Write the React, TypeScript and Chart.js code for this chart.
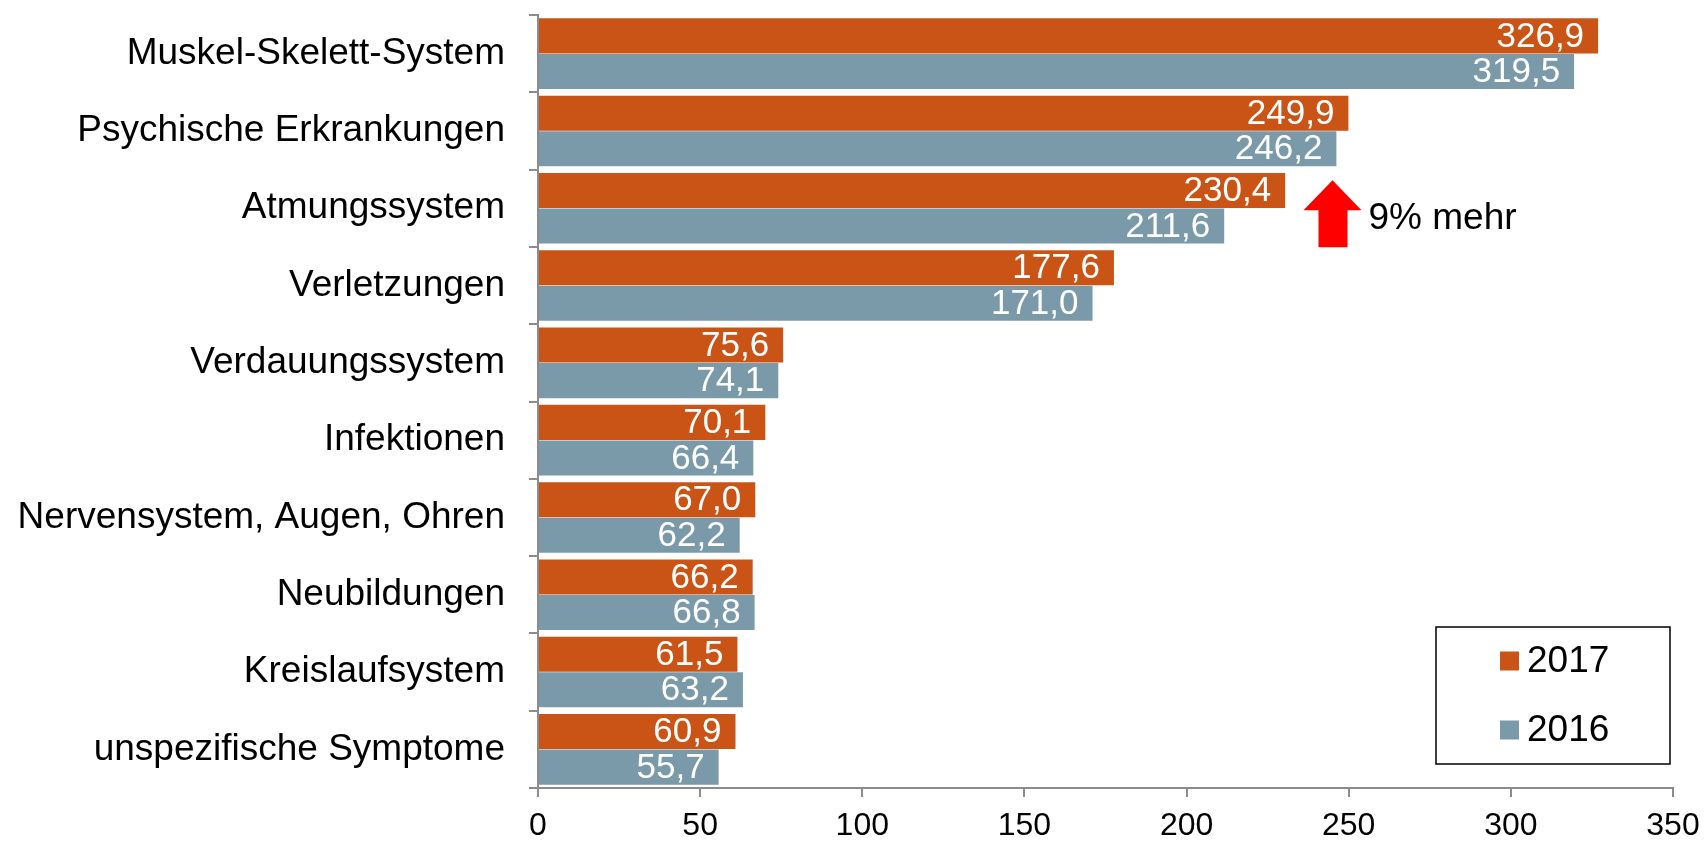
import React, { useEffect, useRef } from "react";
import { Chart, registerables } from "chart.js";

Chart.register(...registerables);

const categories = [
  "Muskel-Skelett-System",
  "Psychische Erkrankungen",
  "Atmungssystem",
  "Verletzungen",
  "Verdauungssystem",
  "Infektionen",
  "Nervensystem, Augen, Ohren",
  "Neubildungen",
  "Kreislaufsystem",
  "unspezifische Symptome",
];
const values2017 = [326.9, 249.9, 230.4, 177.6, 75.6, 70.1, 67.0, 66.2, 61.5, 60.9];
const values2016 = [319.5, 246.2, 211.6, 171.0, 74.1, 66.4, 62.2, 66.8, 63.2, 55.7];
const seriesLabels = ["2017", "2016"];
const xTicks = [0, 50, 100, 150, 200, 250, 300, 350];
const annotationText = "9% mehr";
const annotationValue = 245;
const annotationCategory = 2;

const ORANGE = "#CA5416";
const BLUE = "#7A9AAA";
const AXIS = "#8C8C8C";
const FONT = "'Liberation Sans', Arial, Helvetica, sans-serif";

const fmt = (v: number) => v.toFixed(1).replace(".", ",");

const dataLabelPlugin = {
  id: "dataLabels",
  afterDatasetsDraw(chart: any) {
    const ctx = chart.ctx;
    ctx.save();
    ctx.fillStyle = "#ffffff";
    ctx.font = `35px ${FONT}`;
    ctx.textAlign = "right";
    ctx.textBaseline = "middle";
    chart.data.datasets.forEach((ds: any, di: number) => {
      const meta = chart.getDatasetMeta(di);
      meta.data.forEach((bar: any, i: number) => {
        ctx.fillText(fmt(ds.data[i]), bar.x - 14, bar.y + 1);
      });
    });
    ctx.restore();
  },
};

const annotationPlugin = {
  id: "arrowNote",
  afterDatasetsDraw(chart: any) {
    const ctx = chart.ctx;
    const xs = chart.scales.x;
    const ys = chart.scales.y;
    const cx = xs.getPixelForValue(annotationValue);
    const cy = ys.getPixelForValue(annotationCategory);
    const top = cy - 28;
    const headBase = cy + 2;
    const bottom = cy + 39;
    ctx.save();
    ctx.fillStyle = "#FF0000";
    ctx.beginPath();
    ctx.moveTo(cx, top);
    ctx.lineTo(cx + 29, headBase);
    ctx.lineTo(cx + 15, headBase);
    ctx.lineTo(cx + 15, bottom);
    ctx.lineTo(cx - 14, bottom);
    ctx.lineTo(cx - 14, headBase);
    ctx.lineTo(cx - 29, headBase);
    ctx.closePath();
    ctx.fill();
    ctx.fillStyle = "#000000";
    ctx.font = `37px ${FONT}`;
    ctx.textAlign = "left";
    ctx.textBaseline = "alphabetic";
    ctx.fillText(annotationText, cx + 36, cy + 21);
    ctx.restore();
  },
};

const legendPlugin = {
  id: "boxLegend",
  afterDraw(chart: any) {
    const ctx = chart.ctx;
    const a = chart.chartArea;
    const right = a.right - 3;
    const left = a.right - 237;
    const bottom = a.bottom - 24;
    const top = a.bottom - 161;
    ctx.save();
    ctx.fillStyle = "#ffffff";
    ctx.fillRect(left, top, right - left, bottom - top);
    ctx.strokeStyle = "#000000";
    ctx.lineWidth = 1.5;
    ctx.strokeRect(left, top, right - left, bottom - top);
    const colors = [ORANGE, BLUE];
    ctx.font = `37px ${FONT}`;
    ctx.textAlign = "left";
    ctx.textBaseline = "middle";
    seriesLabels.forEach((lab, i) => {
      const yc = top + 34 + i * 69;
      ctx.fillStyle = colors[i];
      ctx.fillRect(left + 64, yc - 9.5, 19, 19);
      ctx.fillStyle = "#000000";
      ctx.fillText(lab, left + 91, yc + 1);
    });
    ctx.restore();
  },
};

export default function App() {
  const ref = useRef<HTMLCanvasElement | null>(null);
  useEffect(() => {
    document.body.style.margin = "0";
    if (!ref.current) return;
    const chart = new Chart(ref.current, {
      type: "bar",
      data: {
        labels: categories,
        datasets: [
          {
            label: seriesLabels[0],
            data: values2017,
            backgroundColor: ORANGE,
            categoryPercentage: 0.92,
            barPercentage: 0.985,
          },
          {
            label: seriesLabels[1],
            data: values2016,
            backgroundColor: BLUE,
            categoryPercentage: 0.92,
            barPercentage: 0.985,
          },
        ],
      },
      options: {
        indexAxis: "y",
        animation: false,
        responsive: false,
        maintainAspectRatio: false,
        layout: { padding: { top: 15, right: 31, left: 0, bottom: 0 } },
        plugins: {
          legend: { display: false },
          tooltip: { enabled: false },
        },
        scales: {
          x: {
            min: 0,
            max: 350,
            afterBuildTicks: (scale: any) => {
              scale.ticks = xTicks.map((v) => ({ value: v }));
            },
            afterFit: (scale: any) => {
              scale.height = 54;
              scale.paddingLeft = 0;
              scale.paddingRight = 0;
            },
            grid: {
              drawOnChartArea: false,
              drawTicks: true,
              tickLength: 9,
              color: AXIS,
              lineWidth: 2,
            },
            border: { display: true, color: AXIS, width: 2 },
            ticks: {
              color: "#000000",
              font: { family: FONT, size: 32 },
              padding: 10,
              maxRotation: 0,
            },
          },
          y: {
            afterFit: (scale: any) => {
              scale.width = 538;
              scale.paddingTop = 0;
              scale.paddingBottom = 0;
            },
            grid: {
              offset: true,
              drawOnChartArea: false,
              drawTicks: true,
              tickLength: 9,
              color: AXIS,
              lineWidth: 2,
            },
            border: { display: true, color: AXIS, width: 2 },
            ticks: {
              color: "#000000",
              font: { family: FONT, size: 37 },
              padding: 24,
              autoSkip: false,
            },
          },
        },
      },
      plugins: [dataLabelPlugin, annotationPlugin, legendPlugin],
    } as any);
    return () => chart.destroy();
  }, []);
  return (
    <div style={{ width: 1704, height: 842, position: "relative" }}>
      <canvas ref={ref} width={1704} height={842} style={{ display: "block", width: 1704, height: 842 }} />
    </div>
  );
}
